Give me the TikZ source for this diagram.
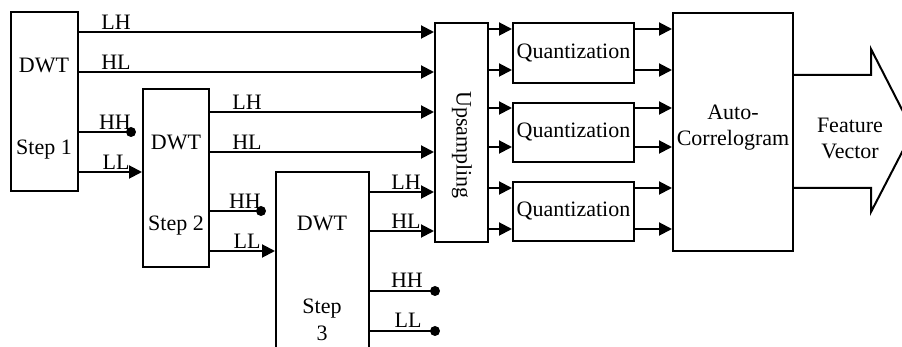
\documentclass[tikz,border=0pt]{standalone}
\usepackage{fontspec}
\setmainfont{Liberation Serif}
\usetikzlibrary{arrows.meta,calc}
\begin{document}
\begin{tikzpicture}[x=0.5pt,y=-0.5pt,
  box/.style={draw,line width=1pt,inner sep=0pt,rectangle},
  lbl/.style={inner sep=0pt,anchor=base},
  arr/.style={line width=1pt,-{Triangle[length=6.5pt,width=6.5pt]}},
  ln/.style={line width=1pt},
  dot/.style={circle,fill=black,inner sep=0pt,minimum size=5pt},
  font=\fontsize{11}{13}\selectfont]
\useasboundingbox (0,0) rectangle (902,347);
% boxes
\node[box,minimum width=33.5pt,minimum height=89.5pt] (d1) at (44.5,101.5) {};
\node[box,minimum width=33pt,minimum height=89pt] (d2) at (176,178) {};
\node[box,minimum width=46.5pt,minimum height=114pt] (d3) at (322.5,286) {};
\node[box,minimum width=26.5pt,minimum height=109.5pt] (up) at (461.5,132.5) {};
\node[box,minimum width=60.5pt,minimum height=30pt] (q1) at (573.5,53) {};
\node[box,minimum width=60.5pt,minimum height=29.5pt] (q2) at (573.5,132.5) {};
\node[box,minimum width=60.5pt,minimum height=29.5pt] (q3) at (573.5,211.5) {};
\node[box,minimum width=60pt,minimum height=119pt] (ac) at (733,132) {};
% texts
\node at (44,65) {DWT};
\node at (44,150) {Step 1};
\node at (176,142) {DWT};
\node at (176,226) {Step 2};
\node at (322,223) {DWT};
\node at (322,309) {Step};
\node at (322,333) {3};
\node[rotate=-90] at (462,145) {Upsampling};
\node at (q1) {Quantization};
\node at (q2) {Quantization};
\node at (q3) {Quantization};
\node[align=center] at (733,128) {Auto-\\Correlogram};
% big arrow
\coordinate (fa) at (ac.east |- 0,75);
\coordinate (fb) at (ac.east |- 0,188);
\draw[line width=1pt,line join=miter] (fa) -- (871,75) -- (871,49) -- (913,131) -- (871,212) -- (871,188) -- (fb);
\node[align=center] at (850,138) {Feature\\Vector};
% step 1 outputs
\draw[arr] (d1.east |- 0,32) -- (up.west |- 0,32);
\draw[arr] (d1.east |- 0,72) -- (up.west |- 0,72);
\node[lbl] at (116,30) {LH};
\node[lbl] at (116,70) {HL};
\coordinate (h1) at (131,132);
\draw[ln] (d1.east |- h1) -- (h1);
\node[dot] at (h1) {};
\node[lbl] at (115,130) {HH};
\draw[arr] (d1.east |- 0,172) -- (d2.west |- 0,172);
\node[lbl] at (116,170) {LL};
% step 2 outputs
\draw[arr] (d2.east |- 0,112) -- (up.west |- 0,112);
\draw[arr] (d2.east |- 0,152) -- (up.west |- 0,152);
\node[lbl] at (247,110) {LH};
\node[lbl] at (247,150) {HL};
\coordinate (h2) at (261,211);
\draw[ln] (d2.east |- h2) -- (h2);
\node[dot] at (h2) {};
\node[lbl] at (245,209) {HH};
\draw[arr] (d2.east |- 0,251) -- (d3.west |- 0,251);
\node[lbl] at (247,249) {LL};
% step 3 outputs
\draw[arr] (d3.east |- 0,192) -- (up.west |- 0,192);
\draw[arr] (d3.east |- 0,231) -- (up.west |- 0,231);
\node[lbl] at (406,190) {LH};
\node[lbl] at (406,229) {HL};
\coordinate (h3) at (435,291);
\coordinate (l3) at (435,331);
\draw[ln] (d3.east |- h3) -- (h3);
\draw[ln] (d3.east |- l3) -- (l3);
\node[dot] at (h3) {};
\node[dot] at (l3) {};
\node[lbl] at (407,288) {HH};
\node[lbl] at (408,328) {LL};
% upsampling to quantization
\foreach \y in {29,70}{\draw[arr] (up.east |- 0,\y) -- (q1.west |- 0,\y);}
\foreach \y in {108,147}{\draw[arr] (up.east |- 0,\y) -- (q2.west |- 0,\y);}
\foreach \y in {188,229}{\draw[arr] (up.east |- 0,\y) -- (q3.west |- 0,\y);}
% quantization to autocorrelogram
\foreach \y in {29,70}{\draw[arr] (q1.east |- 0,\y) -- (ac.west |- 0,\y);}
\foreach \y in {108,147}{\draw[arr] (q2.east |- 0,\y) -- (ac.west |- 0,\y);}
\foreach \y in {188,229}{\draw[arr] (q3.east |- 0,\y) -- (ac.west |- 0,\y);}
\end{tikzpicture}
\end{document}
